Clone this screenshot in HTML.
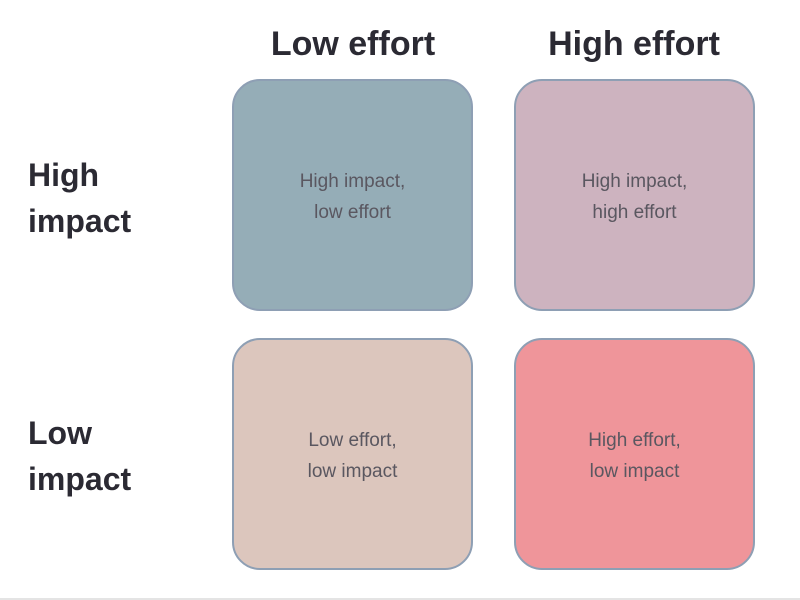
<!DOCTYPE html>
<html><head><meta charset="utf-8"><style>
body{margin:0;width:800px;height:600px;background:#fff;position:relative;overflow:hidden;font-family:"Liberation Sans","DejaVu Sans",sans-serif}
.h{position:absolute;font-weight:bold;color:#2b2a33;font-size:34px;text-align:center;width:280px;top:25px}
.r{position:absolute;left:28px;font-weight:bold;color:#2b2a33;font-size:32px;line-height:46px}
.b{position:absolute;width:237px;height:228px;padding-top:4px;box-sizing:content-box;border:2px solid #8e9fb4;border-radius:28px;display:flex;align-items:center;justify-content:center;text-align:center;color:#5a5760;font-size:19px;line-height:31px}
</style></head><body>
<div class="h" style="left:213px">Low effort</div>
<div class="h" style="left:494px">High effort</div>
<div class="r" style="top:152px">High<br>impact</div>
<div class="r" style="top:410px">Low<br>impact</div>
<div class="b" style="left:232px;top:79px;height:224px;background:#95adb7">High impact,<br>low effort</div>
<div class="b" style="left:514px;top:79px;height:224px;background:#cdb3bf">High impact,<br>high effort</div>
<div class="b" style="left:232px;top:338px;height:224px;background:#dcc6bd">Low effort,<br>low impact</div>
<div class="b" style="left:514px;top:338px;height:224px;background:#ef959a">High effort,<br>low impact</div>
<div style="position:absolute;left:0;top:598px;width:800px;height:2px;background:#e4e4e4"></div>
</body></html>
